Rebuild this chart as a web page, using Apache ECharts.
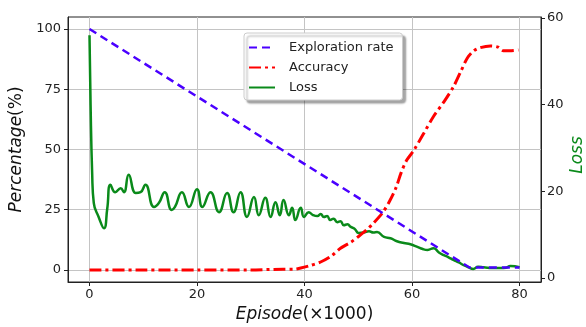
<!DOCTYPE html>
<html>
<head>
<meta charset="utf-8">
<script src="https://cdn.jsdelivr.net/npm/echarts@6/dist/echarts.min.js"></script>
<style>
  html, body { margin: 0; padding: 0; background: #fff; }
  #chart { width: 586px; height: 327px; }
</style>
</head>
<body>
<div id="chart"></div>
<script>
// tick labels
const xTicks = [0, 20, 40, 60, 80]
const pctTicks = [0, 25, 50, 75, 100]
const lossTicks = [0, 20, 40, 60]

// [episode (x1000), value]
const explorationData = [[0, 100], [70.7, 1], [80, 1]]

const accuracyData = [
    [0, 0], [10, 0], [20, 0], [30, 0], [36, 0.3], [38, 0.3], [39.3, 0.8], [41, 1.8],
    [43, 3.3], [45, 5.8], [46.7, 9], [48.6, 11.5], [50, 13.8], [51.5, 16.5], [52.9, 19.6],
    [54.5, 23.7], [55.7, 28], [57, 34], [58, 40.5], [59, 45.5], [60.3, 49.5],
    [62, 56], [64, 63.7], [66, 70], [67.7, 76], [69, 82], [70.3, 88], [71.5, 91],
    [72.7, 92.3], [74.6, 93], [76, 92.5], [77, 91], [78.5, 91], [79.8, 91.3],
]

const lossData = [
    [0, 56], [0.2, 40], [0.5, 24], [0.8, 17.3], [1.7, 14.1], [2.7, 11.5], [3.3, 16],
    [3.9, 21.5], [4.8, 19.8], [5.8, 20.7], [6.4, 19.8], [7.3, 23.8], [8.6, 19.6],
    [9.5, 19.8], [10.4, 21.5], [12, 16.4], [12.9, 17.3], [14, 19.8], [15.3, 15.7],
    [15.9, 16.4], [17.2, 19.8], [18.5, 16.4], [20, 20.5], [21, 16.4], [22.5, 19.8],
    [24.1, 15.2], [25.6, 19.6], [26.8, 15.2], [28.1, 19.8], [29.3, 14.1], [30.6, 18.7],
    [31.5, 14.5], [32.7, 18.5], [33.7, 14.1], [34.6, 17.5], [35.4, 14.5], [36.1, 18],
    [37.1, 14.5], [37.7, 16.2], [38.3, 13.4], [39.3, 16.2], [39.9, 14.1], [40.8, 15.2],
    [41.5, 14.6], [42.4, 14.3], [43, 14.8], [43.6, 14.1], [44.2, 14.3], [44.8, 13.4],
    [45.4, 13.7], [46.1, 12.9], [46.7, 13.1], [47.3, 12.2], [48, 12.4], [48.6, 11.8],
    [49.3, 11.4], [50.1, 10.4], [51, 10.5], [52, 10.8], [52.8, 10.5], [53.5, 10.6],
    [54.8, 9.5], [56, 9.2], [57.2, 8.5], [58.5, 8.1], [59.7, 7.8], [61, 7.2], [62, 6.7],
    [62.9, 6.5], [64, 6.9], [65, 5.9], [65.9, 5.3], [66.8, 4.8], [67.7, 4.2], [68.7, 3.6],
    [69.6, 3], [70.5, 2.5], [71.4, 2.1], [72.3, 2.6], [73.3, 2.5], [75, 2.3], [76.5, 2.3],
    [77.5, 2.4], [78.3, 2.8], [80, 2.5],
]

const font = 'DejaVu Sans'
const ink = '#222'
const green = '#0a8a1a'

const chart = echarts.init(document.getElementById('chart'))

chart.setOption({
    animation: false,
    textStyle: { fontFamily: font },
    grid: {
        left: 68, right: 45, top: 17, bottom: 45,
        outerBoundsMode: 'none', containLabel: false,
        show: true, borderColor: ink, borderWidth: 1, backgroundColor: 'transparent',
    },
    // right axis title, drawn bottom-to-top like the left one
    graphic: [{
        type: 'text',
        x: 578, y: 155,
        rotation: Math.PI / 2,
        style: {
            text: 'Loss', fill: green, font: 'italic 17px "DejaVu Sans"',
            align: 'center', verticalAlign: 'middle',
        },
    }],
    legend: {
        orient: 'vertical',
        left: 244, top: 33,
        padding: [8, 9, 6, 4],
        itemGap: 7,
        itemWidth: 26, itemHeight: 14,
        backgroundColor: '#fff',
        borderColor: '#ccc', borderWidth: 1, borderRadius: 3,
        shadowColor: 'rgba(0,0,0,0.35)', shadowBlur: 2, shadowOffsetX: 3, shadowOffsetY: 3,
        itemStyle: { opacity: 0 },
        textStyle: { fontFamily: font, fontSize: 13, color: ink, padding: [0, 0, 0, 9] },
        data: ['Exploration rate', 'Accuracy', 'Loss'],
    },
    xAxis: {
        type: 'value', min: -4, max: 84,
        name: '{i|Episode}(×1000)',
        nameLocation: 'middle', nameGap: 24,
        nameTextStyle: { fontSize: 17, color: '#111', fontFamily: font, rich: { i: { fontStyle: 'italic', fontSize: 17, fontFamily: font } } },
        axisLine: { onZero: false, lineStyle: { color: ink } },
        axisTick: { show: true, length: 4, lineStyle: { color: ink }, customValues: xTicks },
        axisLabel: { fontSize: 13, color: ink, margin: 6, customValues: xTicks },
        splitLine: { show: true, lineStyle: { color: '#c4c4c4', width: 1 } },
    },
    yAxis: [
        {
            type: 'value', min: -5, max: 105,
            name: '{i|Percentage}(%)',
            nameLocation: 'middle', nameGap: 42, nameRotate: 90,
            nameTextStyle: { fontSize: 17, color: '#111', fontFamily: font, rich: { i: { fontStyle: 'italic', fontSize: 17, fontFamily: font } } },
            axisLine: { show: true, onZero: false, lineStyle: { color: ink } },
            axisTick: { show: true, length: 4, lineStyle: { color: ink }, customValues: pctTicks },
            axisLabel: { fontSize: 13, color: ink, margin: 7, customValues: pctTicks },
            splitLine: { show: true, lineStyle: { color: '#c4c4c4', width: 1 } },
        },
        {
            type: 'value', min: -0.9, max: 60.2, position: 'right',
            axisLine: { show: true, onZero: false, lineStyle: { color: ink } },
            axisTick: { show: true, length: 4, lineStyle: { color: ink }, customValues: lossTicks },
            axisLabel: { fontSize: 13, color: ink, margin: 6, customValues: lossTicks },
            splitLine: { show: false },
        },
    ],
    series: [
        {
            name: 'Exploration rate', type: 'line', yAxisIndex: 0,
            symbol: 'none', data: explorationData,
            lineStyle: { color: '#4a00ff', width: 2.5, type: [8, 5] },
            itemStyle: { color: '#4a00ff' },
            z: 3,
        },
        {
            name: 'Accuracy', type: 'line', yAxisIndex: 0,
            symbol: 'none', smooth: 0.3, data: accuracyData,
            lineStyle: { color: '#ff0000', width: 3, type: [12, 4, 3, 4] },
            itemStyle: { color: '#ff0000' },
            z: 2,
        },
        {
            name: 'Loss', type: 'line', yAxisIndex: 1,
            symbol: 'none', smooth: 0.5, data: lossData,
            lineStyle: { color: green, width: 2.5 },
            itemStyle: { color: green },
            z: 1,
        },
    ],
})
</script>
</body>
</html>
